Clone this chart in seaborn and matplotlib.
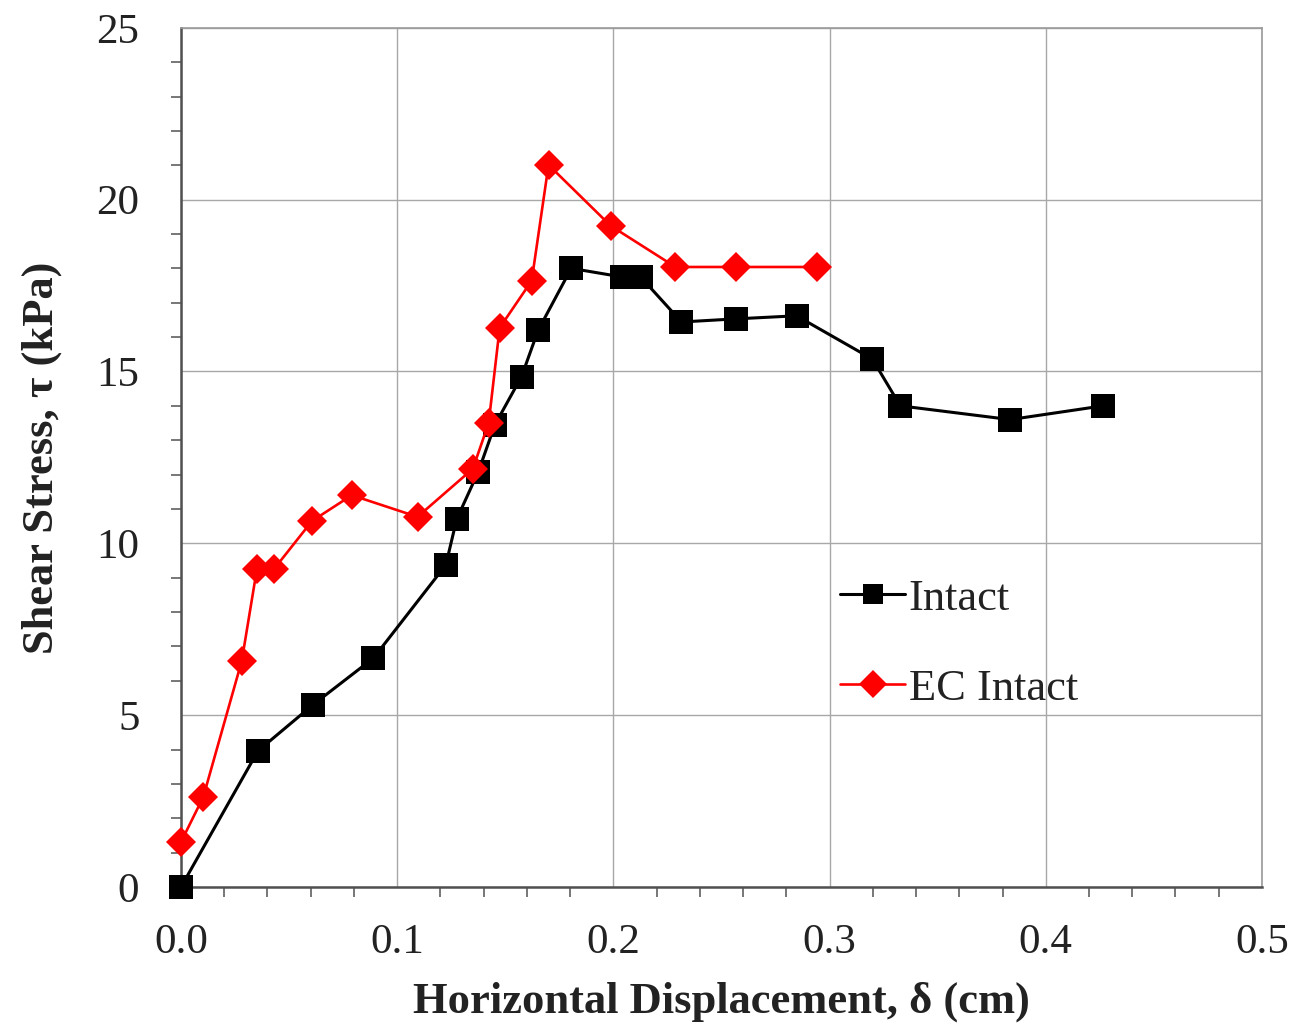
import matplotlib
matplotlib.use("Agg")
import matplotlib.pyplot as plt
from matplotlib.ticker import MultipleLocator
import numpy as np
import pandas as pd
import seaborn as sns

# Direct shear test: shear stress vs horizontal displacement
intact_disp = [0.0, 0.0356, 0.061, 0.089, 0.1225, 0.1275, 0.1375, 0.1452, 0.1575, 0.1652,
               0.1805, 0.2040, 0.2126, 0.2315, 0.2565, 0.2847, 0.3198, 0.3327, 0.3835, 0.4265]
intact_tau = [0.0, 3.96, 5.30, 6.66, 9.37, 10.70, 12.08, 13.45, 14.85, 16.20,
              18.00, 17.75, 17.75, 16.44, 16.53, 16.62, 15.36, 14.00, 13.60, 14.00]

ec_disp = [0.0, 0.0103, 0.0281, 0.0351, 0.0430, 0.0606, 0.0790, 0.1094, 0.1350, 0.1423,
           0.1474, 0.1622, 0.1700, 0.1987, 0.2287, 0.2565, 0.2944]
ec_tau = [1.31, 2.62, 6.58, 9.25, 9.25, 10.65, 11.40, 10.77, 12.17, 13.50,
          16.27, 17.64, 21.01, 19.24, 18.04, 18.04, 18.04]

series_names = ["Intact", "EC Intact"]

df = pd.concat([
    pd.DataFrame({"disp": intact_disp, "tau": intact_tau, "series": series_names[0]}),
    pd.DataFrame({"disp": ec_disp, "tau": ec_tau, "series": series_names[1]}),
], ignore_index=True)

sns.set_theme(style="white")
plt.rcParams["font.family"] = ["Liberation Serif", "DejaVu Serif"]

fig = plt.figure(figsize=(12.93, 10.29), dpi=100)
ax = fig.add_axes([0.140, 0.138, 0.836, 0.835])

sns.lineplot(data=df[df.series == "Intact"], x="disp", y="tau", ax=ax,
             sort=False, estimator=None, color="black", lw=2.2,
             marker="s", markersize=17, markeredgewidth=0, label="Intact")
sns.lineplot(data=df[df.series == "EC Intact"], x="disp", y="tau", ax=ax,
             sort=False, estimator=None, color="#ff0000", lw=1.9,
             marker="D", markersize=15, markeredgewidth=0, label="EC Intact")
for ln in ax.lines:
    ln.set_clip_on(False)
    ln.set_zorder(5)

ax.set_xlim(0, 0.5)
ax.set_ylim(0, 25)
ax.xaxis.set_minor_locator(MultipleLocator(0.02))
ax.yaxis.set_minor_locator(MultipleLocator(1))
ax.set_xticks(np.arange(0, 0.51, 0.1))
ax.set_xticklabels(["0.0", "0.1", "0.2", "0.3", "0.4", "0.5"])
ax.set_yticks(np.arange(0, 26, 5))
ax.set_yticklabels(["0", "5", "10", "15", "20", "25"])

ax.grid(True, which="major", color="#a8a8a8", lw=1.0)
ax.set_axisbelow(True)
for s in ax.spines.values():
    s.set_color("#9a9a9a")
    s.set_linewidth(1.2)
for s in ("left", "bottom"):
    ax.spines[s].set_color("#505050")
    ax.spines[s].set_linewidth(1.8)

ax.tick_params(axis="both", which="major", direction="out", length=10, width=1.2,
               color="#505050", labelsize=31, labelcolor="#222222")
ax.tick_params(axis="y", which="major", length=14, pad=16)
ax.tick_params(axis="x", which="major", pad=16)
ax.tick_params(axis="both", which="minor", direction="out", length=7, width=1.2,
               color="#606060", bottom=True, left=True)

ax.set_xlabel("Horizontal Displacement, δ (cm)", fontsize=32, fontweight="bold",
              color="#222222", labelpad=14)
ax.set_ylabel("Shear Stress, τ (kPa)", fontsize=32, fontweight="bold",
              color="#222222", labelpad=25)

leg = ax.legend(loc="upper left", bbox_to_anchor=(0.610, 0.359), frameon=False,
                fontsize=32, handlelength=1.46, handletextpad=0.08, labelspacing=1.12,
                borderpad=0, borderaxespad=0)
for t in leg.get_texts():
    t.set_color("#222222")
for h in leg.legend_handles:
    h.set_markersize(14)

fig.savefig("out.png", dpi=100, facecolor="white")
